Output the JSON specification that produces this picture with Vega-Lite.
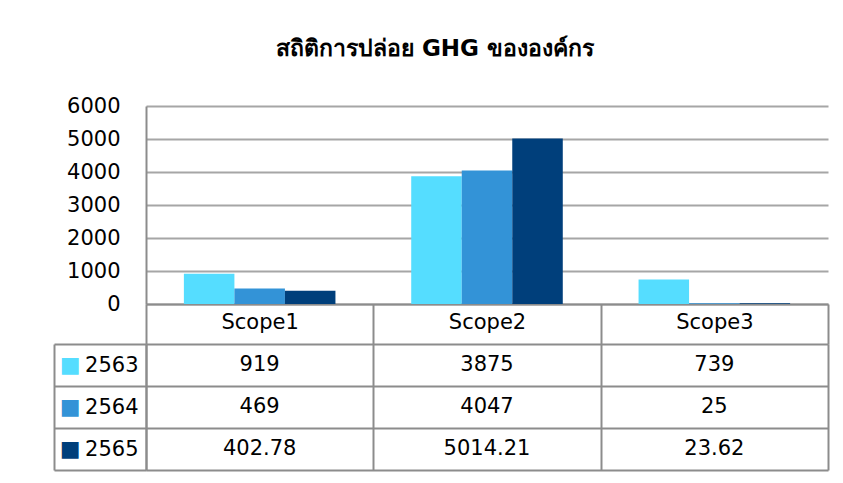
{
  "$schema": "https://vega.github.io/schema/vega-lite/v6.json",
  "background": "white",
  "padding": {"left": 53, "top": 38, "right": 10, "bottom": 5},
  "title": {"text": "สถิติการปล่อย GHG ขององค์กร", "fontSize": 23, "fontWeight": "bold", "font": "DejaVu Sans", "anchor": "middle", "offset": 34, "dx": -6, "color": "black"},
  "config": {"view": {"stroke": null}, "font": "DejaVu Sans"},
  "data": {"values": [
    {"scope": "Scope1", "year": "2563", "value": 919},
    {"scope": "Scope1", "year": "2564", "value": 469},
    {"scope": "Scope1", "year": "2565", "value": 402.78},
    {"scope": "Scope2", "year": "2563", "value": 3875},
    {"scope": "Scope2", "year": "2564", "value": 4047},
    {"scope": "Scope2", "year": "2565", "value": 5014.21},
    {"scope": "Scope3", "year": "2563", "value": 739},
    {"scope": "Scope3", "year": "2564", "value": 25},
    {"scope": "Scope3", "year": "2565", "value": 23.62}
  ]},
  "bounds": "flush",
  "spacing": 40,
  "vconcat": [
    {
      "width": 682,
      "height": 198,
      "mark": {"type": "bar"},
      "encoding": {
        "x": {"field": "scope", "type": "nominal", "scale": {"paddingInner": 0, "paddingOuter": 0},
          "axis": {"title": null, "labelAngle": 0, "labelFontSize": 21, "labelColor": "black", "tickBand": "extent", "tickSize": 40, "tickColor": "#8c8c8c", "tickWidth": 2, "domainColor": "#8c8c8c", "domainWidth": 2, "labelPadding": -22, "grid": false, "labelBaseline": "middle"}},
        "y": {"field": "value", "type": "quantitative", "scale": {"domain": [0, 6000], "nice": false},
          "axis": {"values": [0, 1000, 2000, 3000, 4000, 5000, 6000], "format": "d", "title": null, "grid": true, "gridColor": "#a6a6a6", "gridWidth": 2, "ticks": false, "domain": true, "domainColor": "#8c8c8c", "domainWidth": 2, "labelFontSize": 21, "labelColor": "black", "labelPadding": 26}},
        "xOffset": {"field": "year", "type": "nominal", "scale": {"paddingOuter": 0.75, "paddingInner": 0}},
        "color": {"field": "year", "type": "nominal", "scale": {"domain": ["2563", "2564", "2565"], "range": ["#55ddff", "#3393d7", "#003f7b"]}, "legend": null}
      }
    },
    {
      "width": 682,
      "height": 126,
      "layer": [
        {
          "mark": {"type": "text", "fontSize": 21, "color": "black"},
          "encoding": {
            "x": {"field": "scope", "type": "nominal", "scale": {"paddingInner": 0, "paddingOuter": 0},
              "axis": {"title": null, "labels": false, "ticks": false, "domain": false, "grid": true, "tickBand": "extent", "gridColor": "#8c8c8c", "gridWidth": 2}},
            "y": {"field": "year", "type": "nominal", "scale": {"domain": ["2563", "2564", "2565"], "paddingInner": 0, "paddingOuter": 0},
              "axis": {"orient": "left", "title": null, "tickBand": "extent", "tickSize": 92, "tickWidth": 2, "tickColor": "#8c8c8c", "domain": true, "domainColor": "#8c8c8c", "domainWidth": 2, "grid": true, "gridColor": "#8c8c8c", "gridWidth": 2, "labelFontSize": 21, "labelColor": "black", "labelPadding": -84}},
            "text": {"field": "value", "type": "nominal"}
          }
        },
        {
          "mark": {"type": "text", "opacity": 0},
          "encoding": {
            "y": {"field": "year", "type": "nominal",
              "axis": {"orient": "left", "offset": 92, "title": null, "ticks": false, "grid": false, "domain": true, "domainColor": "#8c8c8c", "domainWidth": 2, "labelExpr": "'■'", "labelFontSize": 22, "labelPadding": -26,
                "labelColor": {"condition": [{"test": "datum.value === '2563'", "value": "#55ddff"}, {"test": "datum.value === '2564'", "value": "#3393d7"}], "value": "#003f7b"}}},
            "text": {"value": ""}
          }
        }
      ],
      "resolve": {"axis": {"y": "independent"}}
    }
  ]
}
